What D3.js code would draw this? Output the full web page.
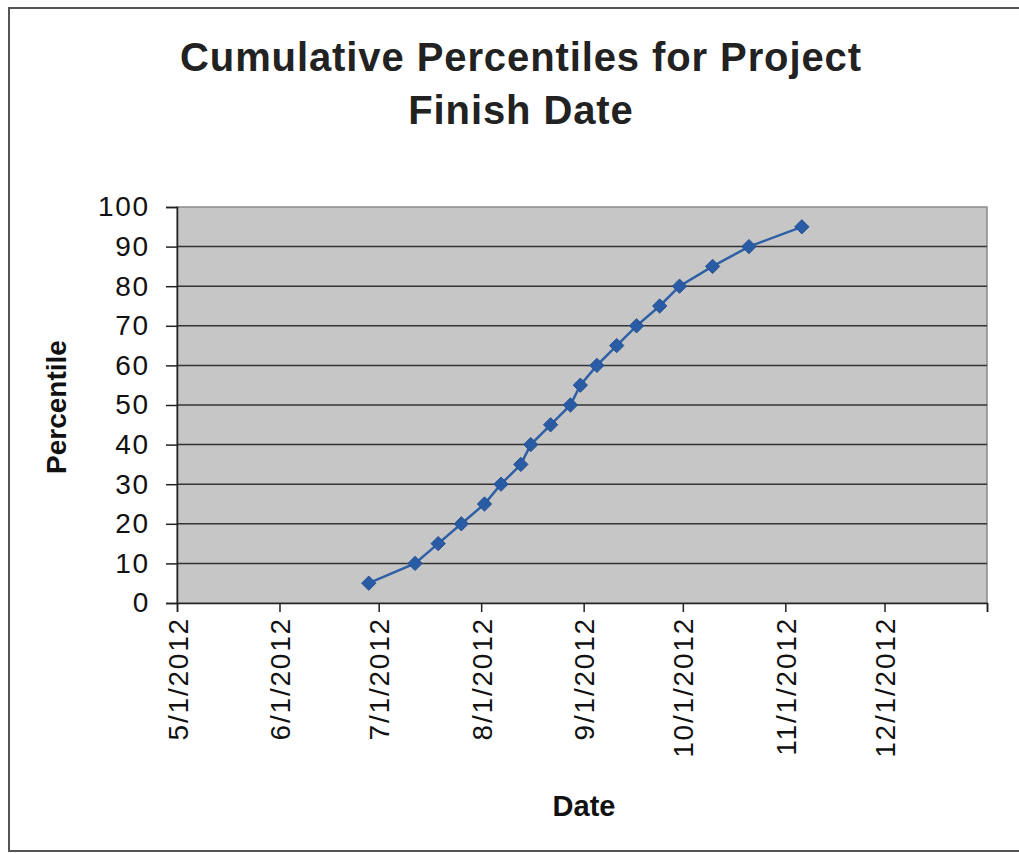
<!DOCTYPE html>
<html>
<head>
<meta charset="utf-8">
<script src="https://cdn.jsdelivr.net/npm/d3@7"></script>
<style>
	body { margin: 0; background: white; }
	svg { display: block; }
	.axis text { font-family: 'Liberation Sans', Arial, sans-serif; font-size: 28px; letter-spacing: 1.8px; fill: #111; }
	.axis path, .axis line { stroke: #222; stroke-width: 1.5; }
</style>
</head>
<body>
<div id="chart"></div>
<script>
// finish dates, one per percentile
var finish_dates = ['6/28/2012', '7/12/2012', '7/19/2012', '7/26/2012', '8/2/2012',
	'8/7/2012', '8/13/2012', '8/16/2012', '8/22/2012', '8/28/2012', '8/31/2012',
	'9/5/2012', '9/11/2012', '9/17/2012', '9/24/2012', '9/30/2012', '10/10/2012',
	'10/21/2012', '11/6/2012'];
var percentiles = [5, 10, 15, 20, 25, 30, 35, 40, 45, 50, 55, 60, 65, 70, 75, 80, 85, 90, 95];

var x_ticks = ['5/1/2012', '6/1/2012', '7/1/2012', '8/1/2012', '9/1/2012',
	'10/1/2012', '11/1/2012', '12/1/2012', '1/1/2013'];
var x_tick_labels = ['5/1/2012', '6/1/2012', '7/1/2012', '8/1/2012', '9/1/2012',
	'10/1/2012', '11/1/2012', '12/1/2012', ''];
var y_ticks = [0, 10, 20, 30, 40, 50, 60, 70, 80, 90, 100];

var parse = d3.timeParse('%m/%d/%Y');

function draw_chart() {
	var data = finish_dates.map(function(d, i) {
		return {date: parse(d), pct: percentiles[i]};
	});

	var margin = {top: 207, right: 32, bottom: 250, left: 177};
	var full_w = 1019, full_h = 853;
	var width = full_w - margin.left - margin.right;
	var height = full_h - margin.top - margin.bottom;

	var svg = d3.select('#chart')
		.append('svg')
			.attr('width', full_w)
			.attr('height', full_h);

	// frame round the chart (no right edge in the scan)
	svg.append('path')
		.attr('d', 'M1019,851 L9,851 L9,8 L1019,8')
		.attr('fill', 'none')
		.attr('stroke', '#555')
		.attr('stroke-width', 2);

	// title
	var title = ['Cumulative Percentiles for Project', 'Finish Date'];
	svg.selectAll('.title')
		.data(title)
		.enter()
		.append('text')
			.attr('class', 'title')
			.attr('text-anchor', 'middle')
			.attr('x', 521)
			.attr('y', function(d, i) { return 71 + i * 53; })
			.text(function(d) { return d; })
			.style('font-family', "'Liberation Sans', Arial, sans-serif")
			.style('font-weight', 'bold')
			.style('font-size', '40px')
			.style('letter-spacing', '0.9px')
			.style('fill', '#222');

	// axis titles
	svg.append('text')
		.attr('text-anchor', 'middle')
		.attr('transform', 'translate(66,407) rotate(-90)')
		.text('Percentile')
		.style('font-family', "'Liberation Sans', Arial, sans-serif")
		.style('font-weight', 'bold')
		.style('font-size', '28px')
		.style('fill', '#111');
	svg.append('text')
		.attr('text-anchor', 'middle')
		.attr('x', 584)
		.attr('y', 816)
		.text('Date')
		.style('font-family', "'Liberation Sans', Arial, sans-serif")
		.style('font-weight', 'bold')
		.style('font-size', '29px')
		.style('fill', '#111');

	var g = svg.append('g')
		.attr('transform', 'translate(' + margin.left + ',' + margin.top + ')');

	var x = d3.scaleTime()
		.domain([parse(x_ticks[0]), parse(x_ticks[x_ticks.length - 1])])
		.range([0, width]);
	var y = d3.scaleLinear()
		.domain([0, 100])
		.range([height, 0]);

	// plot background
	g.append('rect')
		.attr('width', width)
		.attr('height', height)
		.attr('fill', '#c6c6c6')
		.attr('stroke', '#8a8a8a')
		.attr('stroke-width', 1.5);

	// gridlines
	g.append('g')
		.selectAll('line')
		.data(y_ticks.slice(1, -1))
		.enter()
		.append('line')
			.attr('x1', 0)
			.attr('x2', width)
			.attr('y1', function(d) { return y(d); })
			.attr('y2', function(d) { return y(d); })
			.attr('stroke', '#333')
			.attr('stroke-width', 1.5);

	// x axis
	var x_axis = g.append('g')
		.attr('class', 'axis')
		.attr('transform', 'translate(0,' + height + ')')
		.call(d3.axisBottom(x)
			.tickValues(x_ticks.map(parse))
			.tickSize(9)
			.tickFormat(function(d, i) { return x_tick_labels[i]; }));
	x_axis.selectAll('text')
		.attr('text-anchor', 'end')
		.attr('transform', 'rotate(-90)')
		.attr('x', -14)
		.attr('y', 0)
		.attr('dy', '0.36em');

	// y axis
	g.append('g')
		.attr('class', 'axis')
		.call(d3.axisLeft(y)
			.tickValues(y_ticks)
			.tickSize(11)
			.tickPadding(16));

	// line and diamond markers
	var line = d3.line()
		.x(function(d) { return x(d.date); })
		.y(function(d) { return y(d.pct); });
	g.append('path')
		.datum(data)
		.attr('d', line)
		.attr('fill', 'none')
		.attr('stroke', '#2f5fa5')
		.attr('stroke-width', 2.5);

	g.append('g')
		.selectAll('path')
		.data(data)
		.enter()
		.append('path')
			.attr('d', d3.symbol().type(d3.symbolDiamond2).size(130))
			.attr('transform', function(d) { return 'translate(' + x(d.date) + ',' + y(d.pct) + ')'; })
			.attr('fill', '#2a5ca6')
			.attr('stroke', '#24508f')
			.attr('stroke-width', 1);
}

draw_chart();
</script>
</body>
</html>
